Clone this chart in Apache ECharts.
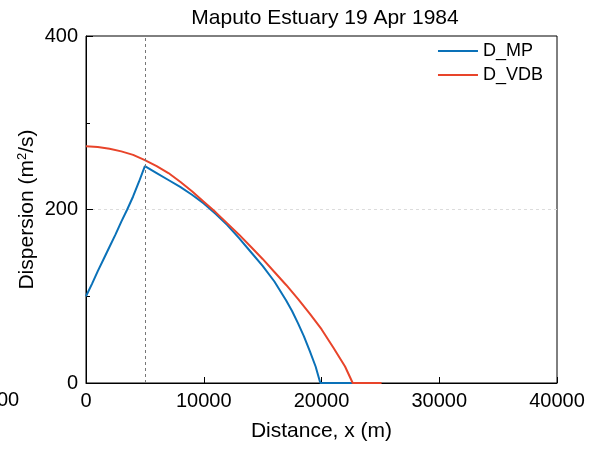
<!DOCTYPE html>
<html lang="en">
<head>
    <meta charset="UTF-8">
    <title>Maputo Estuary</title>
    <script src="https://cdn.jsdelivr.net/npm/echarts@6/dist/echarts.min.js"></script>
    <style>
        html, body { margin: 0; padding: 0; background: #fff; }
        #ChartId { width: 590px; height: 449px; }
    </style>
</head>
<body>
<div id="ChartId"></div>
<script>
    // distance (m) and dispersion (m2/s)
    var xMP  = [0, 500, 1000, 1500, 2000, 2500, 3000, 3500, 4000, 4500, 5000, 6000, 7000, 8000, 9000, 10000, 11000, 12000, 13000, 14000, 15000, 16000, 17000, 17500, 18000, 18500, 19000, 19500, 19900, 22700];
    var dMP  = [100, 114, 129, 143, 157, 171, 186, 200, 215, 232, 250, 242, 234, 226, 217, 207, 195, 182, 167, 151, 135, 117, 95, 83, 69, 54, 37, 19, 0, 0];
    var xVDB = [0, 1000, 2000, 3000, 4000, 5000, 6000, 7000, 8000, 9000, 10000, 11000, 12000, 13000, 14000, 15000, 16000, 17000, 18000, 19000, 20000, 21000, 22000, 22650, 25100];
    var dVDB = [273, 272, 270, 267, 263, 257, 250, 242, 232, 221, 209, 197, 184, 171, 157, 143, 128, 113, 97, 80, 62, 41, 19, 0, 0];
    var xTicks = [0, 10000, 20000, 30000, 40000];
    var yTicks = [0, 200, 400];

    function pairs(xs, ys) {
        var out = [];
        for (var i = 0; i < xs.length; i++) out.push([xs[i], ys[i]]);
        return out;
    }

    var myChart = echarts.init(document.getElementById('ChartId'));
    var font = 'Liberation Sans, Arial, sans-serif';
    var option = {
        animation: false,
        textStyle: { fontFamily: font },
        title: {
            text: 'Maputo Estuary 19 Apr 1984',
            left: 320, top: 3, textAlign: 'center',
            textStyle: { fontSize: 21, fontWeight: 'normal', color: '#000', fontFamily: font }
        },
        legend: {
            right: 42, top: 37, orient: 'vertical', align: 'left',
            itemWidth: 40, itemHeight: 2, itemGap: 6,
            icon: 'rect',
            textStyle: { fontSize: 18, color: '#000', fontFamily: font },
            data: ['D_MP', 'D_VDB']
        },
        grid: {
            left: 86, right: 33, top: 36, bottom: 66,
            outerBoundsMode: 'none', containLabel: false,
            show: true, borderColor: '#000', borderWidth: 1
        },
        xAxis: {
            type: 'value', min: xTicks[0], max: xTicks[xTicks.length - 1], interval: 10000,
            name: 'Distance, x (m)', nameLocation: 'middle', nameGap: 38, nameMoveOverlap: false,
            nameTextStyle: { fontSize: 21, color: '#000', fontFamily: font },
            axisLine: { lineStyle: { color: '#000', width: 1 } },
            axisTick: { inside: true, length: 6, lineStyle: { color: '#000' } },
            axisLabel: { fontSize: 20, color: '#000', margin: 8, formatter: function (v) { return String(v); } },
            splitLine: { show: false }
        },
        yAxis: {
            type: 'value', min: yTicks[0], max: yTicks[yTicks.length - 1], interval: 200,
            name: '{n|Dispersion (m}{s|2}{n|/s)}', nameLocation: 'middle', nameGap: 48, nameMoveOverlap: false,
            nameTextStyle: {
                color: '#000', fontFamily: font,
                rich: {
                    n: { fontSize: 21, color: '#000', fontFamily: font },
                    s: { fontSize: 13, color: '#000', fontFamily: font, verticalAlign: 'top', padding: [0, 0, 9, 0] }
                }
            },
            axisLine: { lineStyle: { color: '#000', width: 1 } },
            axisTick: { inside: true, length: 7, lineStyle: { color: '#000' } },
            minorTick: { show: true, splitNumber: 2, length: 4, lineStyle: { color: '#000' } },
            axisLabel: { fontSize: 20, color: '#000', margin: 8 },
            splitLine: { show: true, showMinLine: false, showMaxLine: false, lineStyle: { color: '#dcdcdc', type: [3, 3], width: 1 } }
        },
        graphic: [{
            type: 'text', left: -3, top: 390,
            style: { text: '00', fontSize: 20, fill: '#000', fontFamily: font }
        }],
        series: [
            {
                name: 'D_MP', type: 'line', showSymbol: false,
                data: pairs(xMP, dMP),
                color: '#0a71b8',
                lineStyle: { width: 2, color: '#0a71b8' },
                markLine: {
                    silent: true, symbol: 'none', label: { show: false },
                    lineStyle: { color: '#777', type: [3, 3], width: 1 },
                    data: [{ xAxis: 5000 }]
                }
            },
            {
                name: 'D_VDB', type: 'line', showSymbol: false,
                data: pairs(xVDB, dVDB),
                color: '#e8442a',
                lineStyle: { width: 2, color: '#e8442a' }
            }
        ]
    };
    myChart.setOption(option, true);
</script>
</body>
</html>
